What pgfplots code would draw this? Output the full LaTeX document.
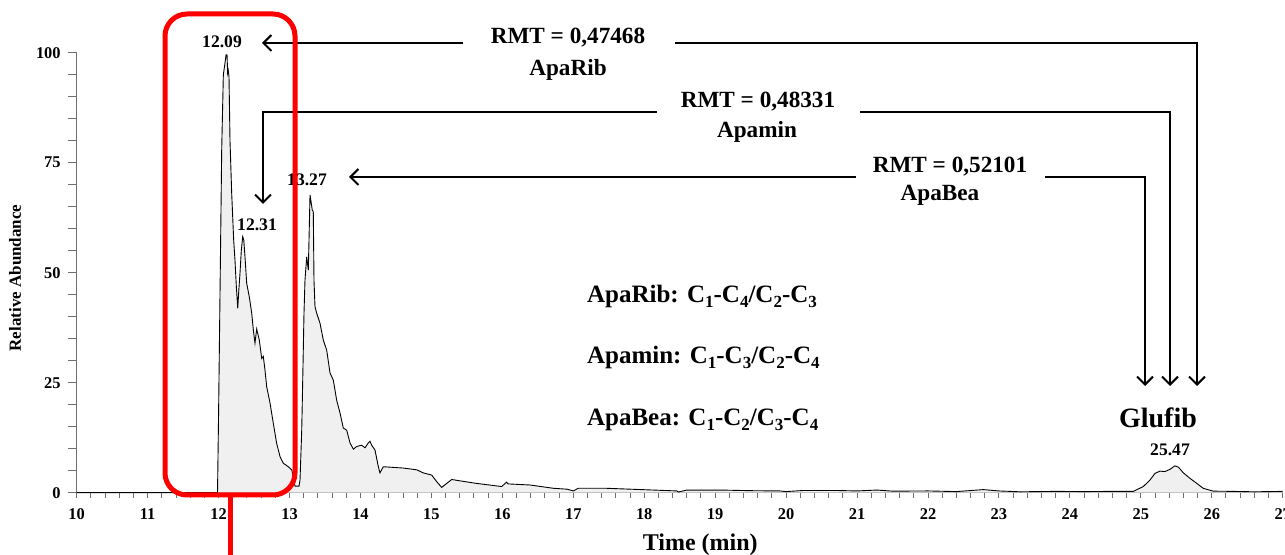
\documentclass[border=0pt]{standalone}
\usepackage{fontspec}
\setmainfont{Liberation Serif}
\usepackage{pgfplots}
\pgfplotsset{compat=1.18}
\usepackage{pgfplotstable}
\usetikzlibrary{arrows.meta}
\definecolor{fillgray}{HTML}{F0F0F0}
\definecolor{axgray}{HTML}{6E6E6E}

\pgfplotstableread{
t v
10.00 0
11.50 0
11.985 0
12.00 18
12.02 45
12.044 78
12.067 95
12.09 97.6
12.105 99.5
12.119 99.5
12.128 95.3
12.137 96
12.147 94.5
12.161 80
12.185 68
12.213 57.4
12.231 52.9
12.25 47
12.27 41.9
12.285 46
12.302 49.9
12.32 55
12.34 58.2
12.355 57.5
12.375 53
12.396 47.6
12.433 44.5
12.467 40.8
12.49 37
12.513 34
12.537 37.2
12.574 34.7
12.608 30.5
12.63 31
12.654 27.9
12.678 24.1
12.725 20.4
12.771 15.8
12.819 11.2
12.866 8.2
12.912 6.7
12.983 5.9
13.031 5.2
13.053 3.6
13.077 1.5
13.134 1.5
13.148 2.9
13.172 14.2
13.186 25.6
13.204 40.8
13.218 48.3
13.242 53.6
13.265 50.6
13.289 67.7
13.30 66.5
13.321 64.2
13.335 63.9
13.345 48.3
13.359 42.3
13.383 40.8
13.43 38.5
13.476 34.7
13.524 32.4
13.571 27.2
13.617 25.6
13.665 21
13.712 18.1
13.758 14.7
13.806 14.2
13.853 11.3
13.9 9.9
13.947 10.5
14.017 10.8
14.064 10.2
14.11 11.3
14.134 11.7
14.158 10.8
14.205 9.7
14.252 5.9
14.275 4.5
14.322 5.9
14.416 5.8
14.604 5.6
14.793 5.2
14.886 4.5
15.004 4.0
15.075 2.5
15.145 1.2
15.286 3.0
15.4 2.7
15.64 2.1
15.99 1.4
16.06 2.4
16.08 2.0
16.39 1.75
16.72 1.0
16.91 0.8
17.0 0.4
17.07 1.0
17.47 1.0
18.13 0.6
18.46 0.4
18.48 0.15
18.6 0.6
19.07 0.6
19.54 0.45
19.91 0.4
20.0 0.25
20.24 0.5
20.71 0.5
21.0 0.4
21.28 0.6
21.5 0.35
22.0 0.4
22.4 0.25
22.78 0.7
23.0 0.4
23.3 0.2
23.8 0.3
24.2 0.25
24.6 0.3
24.894 0.3
25.035 1.4
25.13 2.9
25.2 4.4
25.27 4.9
25.34 4.8
25.41 5.3
25.48 6.1
25.53 5.8
25.6 4.5
25.69 3.3
25.79 2.1
25.88 1.0
26.02 0.35
26.3 0.3
26.6 0.2
27.0 0.3
}\chrom

\newcommand{\sub}[1]{\raisebox{-0.45ex}{\fontsize{8.5}{9}\selectfont #1}}

\begin{document}
\begin{tikzpicture}[font=\bfseries,
  pix/.style={x=0.5pt,y=-0.5pt,shift={(-38.35pt,246.35pt)}},
  arr/.style={line width=1pt,-{Straight Barb[length=4pt,width=8pt]}}]
\begin{axis}[
  at={(0,0)}, anchor=south west,
  width=603pt, height=220pt, scale only axis,
  xmin=10, xmax=27, ymin=0, ymax=100,
  axis lines*=left,
  axis line style={draw=axgray, line width=0.6pt},
  xtick distance=1, ytick={0,25,50,75,100},
  minor x tick num=4, minor y tick num=4,
  tick align=outside,
  major tick length=4.5pt, minor tick length=4.5pt,
  tick style={axgray, line width=0.5pt},
  every x tick/.append style={/pgfplots/major tick length=2.5pt, /pgfplots/minor tick length=2.5pt},
  ticklabel style={font=\bfseries\fontsize{8.2}{9}\selectfont},
  /pgf/number format/assume math mode=true,
  xlabel={Time (min)}, ylabel={Relative Abundance},
  xlabel style={font=\bfseries\fontsize{12}{14}\selectfont, at={(axis description cs:0.517,-0.119)}, anchor=center},
  ylabel style={font=\bfseries\fontsize{8.5}{10}\selectfont, at={(axis description cs:-0.0512,0.488)}, anchor=center},
  clip=false,
]
\addplot[fill=fillgray, draw=none] table[x=t,y=v] {\chrom} \closedcycle;
\addplot[black, line width=0.45pt] table[x=t,y=v] {\chrom};
\end{axis}
\begin{scope}[pix]
  % peak labels
  \node[font=\bfseries\fontsize{8.8}{10}\selectfont] at (222,42) {12.09};
  \node[font=\bfseries\fontsize{8.8}{10}\selectfont] at (257,225) {12.31};
  \node[font=\bfseries\fontsize{8.8}{10}\selectfont] at (307,180) {13.27};
  \node[font=\bfseries\fontsize{8.8}{10}\selectfont] at (1170,450) {25.47};
  \node[font=\bfseries\fontsize{14}{16}\selectfont] at (1158,418) {Glufib};
  % RMT labels
  \node[font=\bfseries\fontsize{11.6}{13}\selectfont] at (568,38) {RMT = 0,47468};
  \node[font=\bfseries\fontsize{11.6}{13}\selectfont] at (568,70) {ApaRib};
  \node[font=\bfseries\fontsize{11.6}{13}\selectfont] at (758,102) {RMT = 0,48331};
  \node[font=\bfseries\fontsize{11.6}{13}\selectfont] at (757,132) {Apamin};
  \node[font=\bfseries\fontsize{11.6}{13}\selectfont] at (950,167) {RMT = 0,52101};
  \node[font=\bfseries\fontsize{11.6}{13}\selectfont] at (940,195) {ApaBea};
  % formulas
  \node[anchor=west, font=\bfseries\fontsize{12.5}{15}\selectfont] at (580,296) {ApaRib: C\sub{1}-C\sub{4}/C\sub{2}-C\sub{3}};
  \node[anchor=west, font=\bfseries\fontsize{12.5}{15}\selectfont] at (580,357) {Apamin: C\sub{1}-C\sub{3}/C\sub{2}-C\sub{4}};
  \node[anchor=west, font=\bfseries\fontsize{12.5}{15}\selectfont] at (580,420) {ApaBea: C\sub{1}-C\sub{2}/C\sub{3}-C\sub{4}};
  % arrows
  \draw[arr] (463,43) -- (262,43);
  \draw[arr] (675,43) -- (1197,43) -- (1197,386);
  \draw[arr] (657,112) -- (263,112) -- (263,204);
  \draw[arr] (860,112) -- (1170,112) -- (1170,386);
  \draw[arr] (856,177) -- (349,177);
  \draw[arr] (1045,177) -- (1145,177) -- (1145,386);
  % red highlight
  \draw[red, line width=2.5pt, rounded corners=11pt] (165,14) rectangle (295,495);
  \draw[red, line width=2.5pt] (230.5,495) -- (230.5,560);
\end{scope}
\pgfresetboundingbox
\begin{scope}[pix]
  \path[use as bounding box] (0,0) rectangle (1285,555);
\end{scope}
\end{tikzpicture}
\end{document}
